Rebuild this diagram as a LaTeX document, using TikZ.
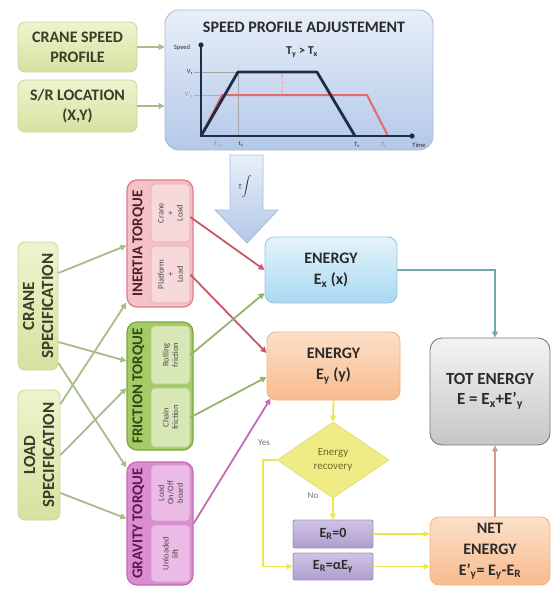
\documentclass[tikz,border=0pt]{standalone}
\usepackage{fontspec}
\setmainfont{Carlito}
\usetikzlibrary{arrows.meta,shapes.geometric,calc}

% fills and outlines
\definecolor{specA}{HTML}{EEF4CE}
\definecolor{specB}{HTML}{D5E2A0}
\definecolor{specL}{HTML}{C9D89C}
\definecolor{specT}{HTML}{3C3C28}
\definecolor{profA}{HTML}{E8EFF9}
\definecolor{profB}{HTML}{B3C8E8}
\definecolor{profL}{HTML}{A8BAD6}
\definecolor{inOut}{HTML}{F3C2C8}
\definecolor{inLine}{HTML}{E07A86}
\definecolor{inSub}{HTML}{F7D8DB}
\definecolor{inSubL}{HTML}{EAA7AF}
\definecolor{inText}{HTML}{5A1A24}
\definecolor{frOut}{HTML}{A4CB68}
\definecolor{frLine}{HTML}{7BA83E}
\definecolor{frSub}{HTML}{D7E7B6}
\definecolor{frSubL}{HTML}{B3CF87}
\definecolor{frText}{HTML}{2C4A12}
\definecolor{grOut}{HTML}{DA8DD1}
\definecolor{grLine}{HTML}{C169B8}
\definecolor{grSub}{HTML}{EBBBE5}
\definecolor{grSubL}{HTML}{D595CC}
\definecolor{grText}{HTML}{5C1652}
\definecolor{exA}{HTML}{E4F3FB}
\definecolor{exB}{HTML}{A9D9F2}
\definecolor{exL}{HTML}{9CC7DD}
\definecolor{eyA}{HTML}{FCE0C8}
\definecolor{eyB}{HTML}{F8BB8E}
\definecolor{eyL}{HTML}{F1B58A}
\definecolor{totA}{HTML}{F4F4F4}
\definecolor{totB}{HTML}{C6C6C6}
\definecolor{totL}{HTML}{7A7A7A}
\definecolor{diaF}{HTML}{EFEC86}
\definecolor{diaL}{HTML}{E2DE70}
\definecolor{diaT}{HTML}{6B6A2A}
\definecolor{erA}{HTML}{CFC3E4}
\definecolor{erB}{HTML}{B09ECF}
\definecolor{erL}{HTML}{A090C4}
% connector colours
\definecolor{cSpec}{HTML}{A8BC8A}
\definecolor{cRed}{HTML}{C95864}
\definecolor{cGreen}{HTML}{93B46C}
\definecolor{cMag}{HTML}{C56AB4}
\definecolor{cTeal}{HTML}{6FA9AA}
\definecolor{cYel}{HTML}{E9E84E}
\definecolor{cBrown}{HTML}{D49A88}
\definecolor{axisC}{HTML}{1F2C48}
\definecolor{redC}{HTML}{E26A6A}
\definecolor{txt}{HTML}{2B2B2B}

\begin{document}
\begin{tikzpicture}[x=1pt,y=-1pt,
  box/.style={draw, rounded corners=7pt, line width=0.9pt, inner sep=0pt, align=center, text=txt},
  specbox/.style={box, draw=specL, top color=specA, bottom color=specB,
    font=\bfseries\fontsize{16}{20}\selectfont, text=specT},
  spectext/.style={rotate=90, align=center, font=\bfseries\fontsize{17}{19}\selectfont, text=specT, inner sep=0pt},
  torque/.style={box, rounded corners=10pt, line width=1.2pt},
  subbox/.style={box, rounded corners=4pt, line width=0.6pt, minimum width=39pt},
  subtext/.style={rotate=90, align=center, font=\fontsize{8.5}{9.5}\selectfont, text=black!70, inner sep=0pt},
  torquetitle/.style={rotate=90, font=\bfseries\fontsize{15}{17}\selectfont, inner sep=0pt},
  energy/.style={box, rounded corners=9pt, font=\bfseries\fontsize{16}{21}\selectfont},
  erbox/.style={box, rounded corners=2pt, draw=erL, top color=erA, bottom color=erB,
    minimum width=80pt, font=\bfseries\fontsize{14}{16}\selectfont},
  glabel/.style={font=\fontsize{6.5}{7}\selectfont, inner sep=0pt, text=txt},
  conn/.style={line width=1.8pt, -{Triangle[length=6pt,width=6pt]}},
]
\useasboundingbox (0,0) rectangle (552,589);

% ---------------- inputs and speed profile panel ----------------
\node[specbox, minimum width=119pt, minimum height=50pt] (csp) at (77.5,47) {CRANE SPEED\\PROFILE};
\node[specbox, minimum width=119pt, minimum height=52pt] (srl) at (77.5,106) {S/R LOCATION\\(X,Y)};

\node[box, rounded corners=14pt, draw=profL, top color=profA, bottom color=profB,
  minimum width=268pt, minimum height=140pt] (spa) at (299,80) {};
\node[font=\bfseries\fontsize{16}{18}\selectfont, text=txt] (spat) at (304,27) {SPEED PROFILE ADJUSTEMENT};
\node[font=\bfseries\fontsize{12}{14}\selectfont, text=txt] (spac) at (302,52) {T\textsubscript{y} > T\textsubscript{x}};

\draw[conn, cSpec] (csp.east) -- (csp.east -| spa.west);
\draw[conn, cSpec] (srl.east) -- (srl.east -| spa.west);

% speed profiles
\coordinate (o) at (201,136);
\coordinate (ytop) at (201,45);
\coordinate (xend) at (412,136);
\draw[black!35, line width=0.5pt] (194,72) -- (238,72) -- (238,136);
\draw[redC!70, line width=0.5pt] (194,95) -- (222,95);
\draw[redC!60, line width=0.6pt, densely dashed, {Stealth[length=3pt]}-{Stealth[length=3pt]}] (282,74) -- (282,93);
\draw[redC, line width=2pt, line join=round] (o) -- (222,95) -- (367,95) -- (388,136);
\draw[axisC, line width=2.8pt, line join=round] (o) -- (238,72) -- (317,72) -- (355,136);
\draw[axisC, line width=2.4pt] (ytop) -- (o) -- (xend);
\fill[axisC] (ytop) circle (2.6pt) (xend) circle (2.6pt);
\node[glabel] (lsp) at (182,48) {Speed};
\node[glabel] (lvx) at (190,72) {V\textsubscript{x}};
\node[glabel, text=redC] (lvy) at (189,95) {V'\textsubscript{y}};
\node[glabel, text=redC] (lty) at (218,144) {t'\textsubscript{y}};
\node[glabel] (ltx) at (241,144) {t\textsubscript{x}};
\node[glabel] (lTx) at (357,145) {T\textsubscript{x}};
\node[glabel, text=redC] (lTy) at (384,145) {T\textsubscript{y}};
\node[glabel] (ltime) at (419,145) {Time};

% integration block arrow
\draw[draw=profL, line width=0.8pt, top color=profA, bottom color=profB]
  (230,155) -- (263,155) -- (263,210) -- (278,210) -- (247,243) -- (215,210) -- (230,210) -- cycle;
\node[text=txt, inner sep=0pt] (integ) at (245,187) {{\fontsize{7}{8}\selectfont T}$\displaystyle\int$};

% ---------------- specifications ----------------
\node[specbox, minimum width=40pt, minimum height=128pt] (crs) at (38,306) {};
\node[spectext] at (crs) {CRANE\\SPECIFICATION};
\node[specbox, minimum width=42pt, minimum height=130pt] (lds) at (39,455) {};
\node[spectext] at (lds) {LOAD\\SPECIFICATION};

% ---------------- torques ----------------
\node[torque, draw=inLine, fill=inOut, minimum width=66pt, minimum height=127pt] (inertia) at (160,243.5) {};
\node[torquetitle, text=inText] at (138.5,243.5) {INERTIA TORQUE};
\node[subbox, draw=inSubL, fill=inSub, minimum height=58pt] (i1) at (170.5,213) {};
\node[subtext] at (i1) {Crane\\+\\Load};
\node[subbox, draw=inSubL, fill=inSub, minimum height=57pt] (i2) at (170.5,274.5) {};
\node[subtext] at (i2) {Platform\\+\\Load};

\node[torque, draw=frLine, fill=frOut, minimum width=66pt, minimum height=128pt] (friction) at (160,386) {};
\node[torquetitle, text=frText] at (138.5,386) {FRICTION TORQUE};
\node[subbox, draw=frSubL, fill=frSub, minimum height=58pt] (f1) at (170.5,355) {};
\node[subtext] at (f1) {Rolling\\friction};
\node[subbox, draw=frSubL, fill=frSub, minimum height=59pt] (f2) at (170.5,417.5) {};
\node[subtext] at (f2) {Chain\\friction};

\node[torque, draw=grLine, fill=grOut, minimum width=66pt, minimum height=123pt] (gravity) at (160,523.5) {};
\node[torquetitle, text=grText] at (138.5,523.5) {GRAVITY TORQUE};
\node[subbox, draw=grSubL, fill=grSub, minimum height=56pt] (g1) at (170.5,493) {};
\node[subtext] at (g1) {Load\\On/Off\\board};
\node[subbox, draw=grSubL, fill=grSub, minimum height=57pt] (g2) at (170.5,553.5) {};
\node[subtext] at (g2) {Unloaded\\lift};

% specification -> torque links
\draw[conn, cSpec] ([yshift=33pt]crs.east) -- ([yshift=-2pt]inertia.west);
\draw[conn, cSpec] ([yshift=-36pt]crs.east) -- ([yshift=25pt]friction.west);
\draw[conn, cSpec] ([yshift=-57pt]crs.east) -- ([yshift=56pt]gravity.west);
\draw[conn, cSpec] ([yshift=51pt]lds.east) -- ([yshift=-59pt]inertia.west);
\draw[conn, cSpec] (lds.east) -- ([yshift=-2pt]friction.west);
\draw[conn, cSpec] ([yshift=-38pt]lds.east) -- ([yshift=5pt]gravity.west);

% ---------------- energies ----------------
\node[energy, draw=exL, top color=exA, bottom color=exB, minimum width=132pt, minimum height=66pt] (ex) at (331,270)
  {ENERGY\\E\textsubscript{x} (x)};
\node[energy, draw=eyL, top color=eyA, bottom color=eyB, minimum width=133pt, minimum height=68pt] (ey) at (333.5,366)
  {ENERGY\\E\textsubscript{y} (y)};
\node[energy, draw=totL, top color=totA, bottom color=totB, rounded corners=12pt,
  minimum width=120pt, minimum height=107pt, font=\bfseries\fontsize{17}{20}\selectfont] (tot) at (490,391.5)
  {TOT ENERGY\\E = E\textsubscript{x}+E'\textsubscript{y}};
\node[energy, draw=eyL, top color=eyA, bottom color=eyB, minimum width=120pt, minimum height=68pt] (net) at (490,551)
  {NET\\ENERGY\\E'\textsubscript{y}= E\textsubscript{y}-E\textsubscript{R}};

\node[diamond, draw=diaL, fill=diaF, line width=0.8pt, minimum width=112pt, minimum height=76pt, inner sep=0pt,
  align=center, text=diaT, font=\fontsize{11}{14}\selectfont] (dia) at (333,460) {Energy\\recovery};
\node[erbox, minimum height=28pt] (er0) at (333,534) {E\textsubscript{R}=0};
\node[erbox, minimum height=27pt] (era) at (333,566.5) {E\textsubscript{R}=αE\textsubscript{y}};
\node[font=\fontsize{9}{10}\selectfont, text=black!55] (yes) at (264,443) {Yes};
\node[font=\fontsize{9}{10}\selectfont, text=black!55] (no) at (313,496) {No};

% torque -> energy links
\draw[conn, cRed] ([yshift=-4pt]i1.east) -- (ex.west);
\draw[conn, cRed] (i2.east) -- ([yshift=13pt]ey.west);
\draw[conn, cGreen] (f1.east) -- ([yshift=-23pt]ex.west);
\draw[conn, cGreen] (f2.east) -- ([yshift=-11pt]ey.west);
\draw[conn, cMag] (gravity.east) -- ([xshift=4pt,yshift=2pt]ey.south west);

% energy flow
\draw[conn, cTeal] (ex.east) -| ([xshift=5pt]tot.north);
\draw[conn, cYel] (ey.south) -- (dia.north);
\draw[conn, cYel] (dia.south) -- (er0.north);
\draw[conn, cYel] (dia.west) -- ++(-14,0) |- (era.west);
\draw[conn, cYel] (er0.east) -- (er0.east -| net.west);
\draw[conn, cYel] (era.east) -- (era.east -| net.west);
\draw[conn, cBrown] ([xshift=5pt]net.north) -- ([xshift=5pt]tot.south);
\end{tikzpicture}
\end{document}
